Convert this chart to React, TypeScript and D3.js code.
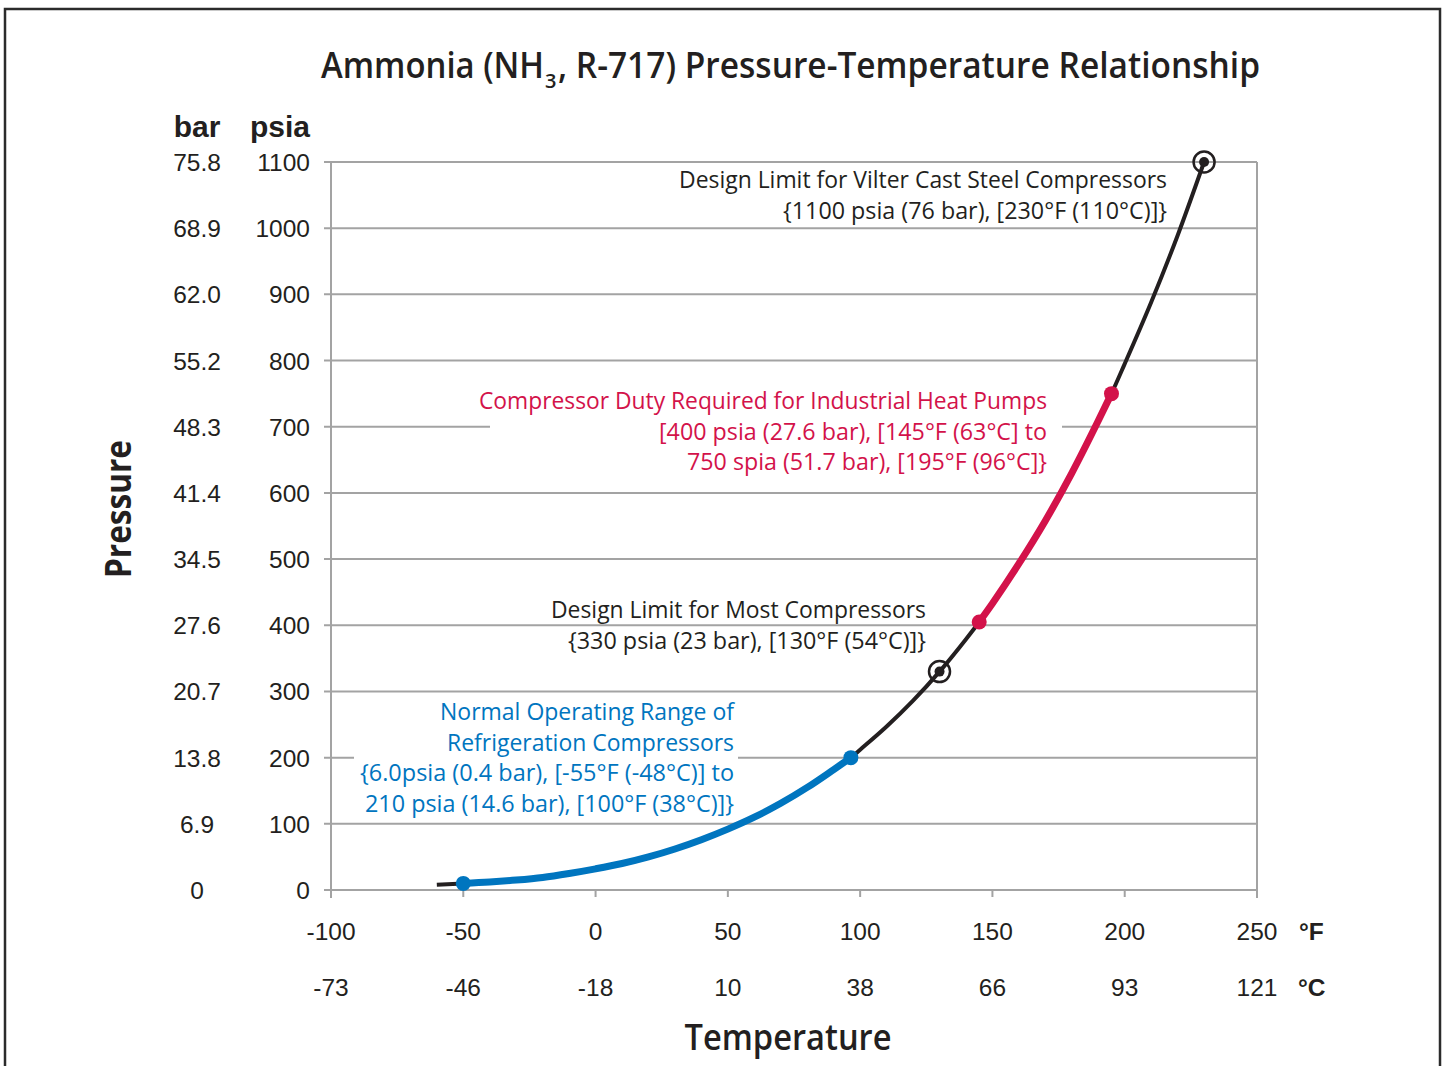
import React from "react";
import * as d3 from "d3";

const tempF = [-60, -50, -40, -30, -20, -10, 0, 10, 20, 30, 40, 50, 60, 70, 80, 90, 96.5, 100, 110, 120, 130, 140, 145, 150, 160, 170, 180, 190, 195, 200, 210, 220, 230];
const pressurePsia = [8, 10, 12, 15, 19, 25, 32, 40, 50, 62, 76, 92, 110, 131, 155, 182, 200, 212, 247, 286, 330, 379, 405, 433, 493, 558, 630, 709, 750, 795, 888, 989, 1100];

const psiaTicks = [0, 100, 200, 300, 400, 500, 600, 700, 800, 900, 1000, 1100];
const barLabels = ["0", "6.9", "13.8", "20.7", "27.6", "34.5", "41.4", "48.3", "55.2", "62.0", "68.9", "75.8"];
const fTicks = [-100, -50, 0, 50, 100, 150, 200, 250];
const cLabels = ["-73", "-46", "-18", "10", "38", "66", "93", "121"];

const blueRange = [-50, 96.5];
const redRange = [145, 195];
const limitPoints = [130, 230];

const BLUE = "#0075bf";
const RED = "#d3124a";
const GRID = "#a3a3a3";
const INK = "#231f20";
const CF = "'Open Sans', Lato, sans-serif";
const AF = "'Liberation Sans', Arial, sans-serif";

export default function App() {
  const x = d3.scaleLinear().domain([-100, 250]).range([331, 1257]);
  const y = d3.scaleLinear().domain([0, 1100]).range([890, 162]);
  const pts = tempF.map((t, i) => [t, pressurePsia[i]] as [number, number]);
  const line = d3
    .line<[number, number]>()
    .x((d) => x(d[0]))
    .y((d) => y(d[1]))
    .curve(d3.curveMonotoneX);
  const seg = (a: number, b: number) => pts.filter((p) => p[0] >= a && p[0] <= b);
  const pAt = (t: number) => pressurePsia[tempF.indexOf(t)];

  const ann = (
    lines: string[],
    right: number,
    base: number,
    lens: number[],
    color: string,
    gap = 30.5
  ) =>
    lines.map((s, i) => (
      <text
        key={i}
        x={right}
        y={base + i * gap}
        textAnchor="end"
        fill={color}
        fontFamily={CF}
        fontSize={24}
        textLength={lens[i]}
        lengthAdjust="spacingAndGlyphs"
      >
        {s}
      </text>
    ));

  return (
    <svg width={1445} height={1066} style={{ position: "absolute", left: 0, top: 0, background: "#fff" }}>
      <rect x={0} y={0} width={1445} height={1066} fill="#fff" />
      <rect x={5} y={9} width={1435} height={1100} fill="none" stroke="#2b2b2b" strokeWidth={2.5} />

      <text x={321} y={78} fontFamily={CF} fontWeight={600} fontSize={36} fill={INK} textLength={223} lengthAdjust="spacingAndGlyphs">
        Ammonia (NH
      </text>
      <text x={545} y={88} fontFamily={CF} fontWeight={600} fontSize={20} fill={INK}>
        3
      </text>
      <text x={558} y={78} fontFamily={CF} fontWeight={600} fontSize={36} fill={INK} textLength={702} lengthAdjust="spacingAndGlyphs">
        , R-717) Pressure-Temperature Relationship
      </text>

      {/* gridlines */}
      {psiaTicks.map((v) => (
        <line key={v} x1={324} x2={1257} y1={y(v)} y2={y(v)} stroke={GRID} strokeWidth={2} />
      ))}
      <line x1={x(-100)} x2={x(-100)} y1={y(1100)} y2={898} stroke={GRID} strokeWidth={2} />
      <line x1={x(250)} x2={x(250)} y1={y(1100)} y2={898} stroke={GRID} strokeWidth={2} />
      {fTicks.map((v) => (
        <line key={v} x1={x(v)} x2={x(v)} y1={890} y2={897} stroke={GRID} strokeWidth={2} />
      ))}

      {/* y labels */}
      <text x={197} y={137} textAnchor="middle" fontFamily={AF} fontWeight="bold" fontSize={30} fill={INK}>bar</text>
      <text x={310} y={137} textAnchor="end" fontFamily={AF} fontWeight="bold" fontSize={30} fill={INK}>psia</text>
      {psiaTicks.map((v, i) => (
        <g key={v}>
          <text x={197} y={y(v) + 9} textAnchor="middle" fontFamily={AF} fontSize={24.5} fill={INK}>{barLabels[i]}</text>
          <text x={310} y={y(v) + 9} textAnchor="end" fontFamily={AF} fontSize={24.5} fill={INK}>{v}</text>
        </g>
      ))}

      {/* x labels */}
      {fTicks.map((v, i) => (
        <g key={v}>
          <text x={x(v)} y={940} textAnchor="middle" fontFamily={AF} fontSize={24.5} fill={INK}>{v}</text>
          <text x={x(v)} y={996} textAnchor="middle" fontFamily={AF} fontSize={24.5} fill={INK}>{cLabels[i]}</text>
        </g>
      ))}
      <text x={1299} y={940} fontFamily={AF} fontWeight="bold" fontSize={24.5} fill={INK}>°F</text>
      <text x={1298} y={996} fontFamily={AF} fontWeight="bold" fontSize={24.5} fill={INK}>°C</text>

      <text x={788} y={1050} textAnchor="middle" fontFamily={CF} fontWeight={600} fontSize={36} fill={INK} textLength={207} lengthAdjust="spacingAndGlyphs">Temperature</text>
      <text
        transform="translate(131,509) rotate(-90)"
        textAnchor="middle"
        fontFamily={CF}
        fontWeight={700}
        fontSize={36}
        fill={INK}
        textLength={138}
        lengthAdjust="spacingAndGlyphs"
      >
        Pressure
      </text>

      {/* annotation backgrounds */}
      <rect x={490} y={385} width={572} height={94} fill="#fff" />
      <rect x={354} y={697} width={384} height={122} fill="#fff" />

      {/* curve */}
      <path d={line(pts) || ""} fill="none" stroke={INK} strokeWidth={4} />
      <path d={line(seg(blueRange[0], blueRange[1])) || ""} fill="none" stroke={BLUE} strokeWidth={7} />
      <path d={line(seg(redRange[0], redRange[1])) || ""} fill="none" stroke={RED} strokeWidth={7} />
      {blueRange.map((t) => (
        <circle key={t} cx={x(t)} cy={y(pAt(t))} r={7.5} fill={BLUE} />
      ))}
      {redRange.map((t) => (
        <circle key={t} cx={x(t)} cy={y(pAt(t))} r={7.5} fill={RED} />
      ))}
      {limitPoints.map((t) => (
        <g key={t}>
          <circle cx={x(t)} cy={y(pAt(t))} r={10.5} fill="none" stroke={INK} strokeWidth={2.5} />
          <circle cx={x(t)} cy={y(pAt(t))} r={5} fill={INK} />
        </g>
      ))}

      {/* annotations */}
      {ann(
        ["Design Limit for Vilter Cast Steel Compressors", "{1100 psia (76 bar), [230°F (110°C)]}"],
        1167,
        188,
        [488, 384],
        INK
      )}
      {ann(
        ["Compressor Duty Required for Industrial Heat Pumps", "[400 psia (27.6 bar), [145°F (63°C] to", "750 spia (51.7 bar), [195°F (96°C]}"],
        1047,
        409,
        [568, 388, 360],
        RED
      )}
      {ann(
        ["Design Limit for Most Compressors", "{330 psia (23 bar), [130°F (54°C)]}"],
        926,
        618,
        [375, 358],
        INK
      )}
      {ann(
        ["Normal Operating Range of", "Refrigeration Compressors", "{6.0psia (0.4 bar), [-55°F (-48°C)] to", "210 psia (14.6 bar), [100°F (38°C)]}"],
        734,
        720,
        [294, 287, 374, 369],
        BLUE
      )}
    </svg>
  );
}
